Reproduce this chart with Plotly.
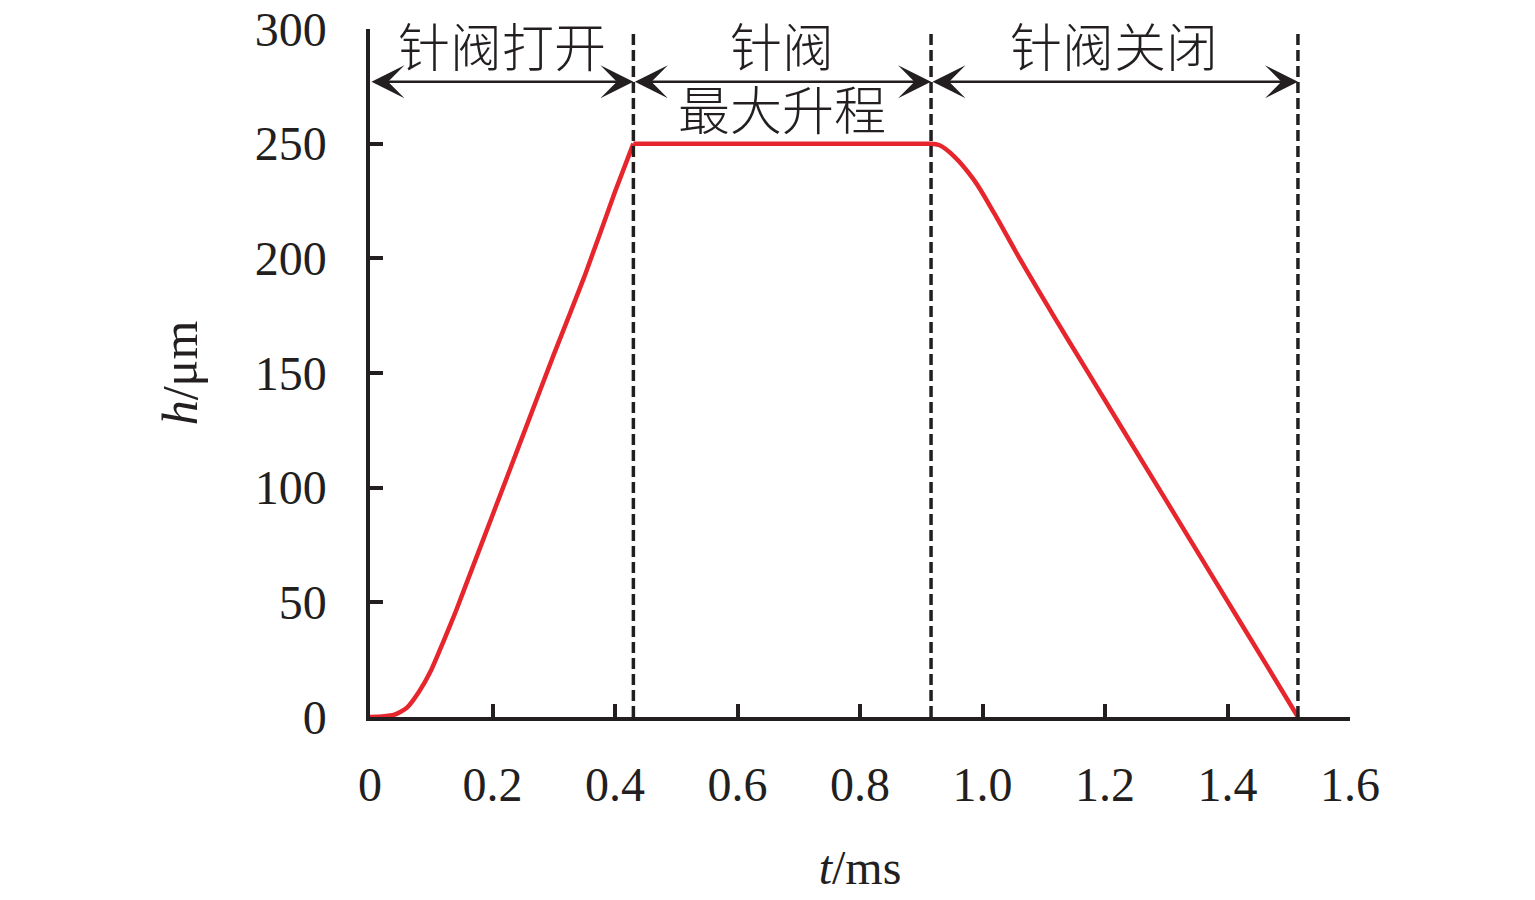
import plotly.graph_objects as go

# needle lift curve: opening, max lift, closing
t_open = [0, 0.02, 0.04, 0.06, 0.08, 0.10, 0.12, 0.14, 0.16, 0.20, 0.25, 0.30, 0.35, 0.40, 0.43]
h_open = [0, 0.2, 1.0, 4.0, 11, 20.5, 33, 46, 60, 88, 123, 158, 192, 229, 250]
t_top = [0.43, 0.916]
h_top = [250, 250]
t_close = [0.916, 0.93, 0.954, 0.986, 1.019, 1.062, 1.117, 1.171, 1.231, 1.301, 1.356, 1.410, 1.464, 1.515]
h_close = [250, 249.3, 244.4, 234.2, 219.7, 199.3, 174.5, 150.8, 124.5, 93.9, 69.8, 46.1, 22.5, 0]

# phase boundaries (dashed lines) and phase labels
phase_bounds = [0, 0.43, 0.916, 1.515]
phase_labels = ['针阀打开', '针阀', '针阀关闭']
phase_sub = ['', '最大升程', '']

x_ticks = [0, 0.2, 0.4, 0.6, 0.8, 1.0, 1.2, 1.4, 1.6]
x_ticktext = ['0', '0.2', '0.4', '0.6', '0.8', '1.0', '1.2', '1.4', '1.6']
y_ticks = [0, 50, 100, 150, 200, 250, 300]

INK = '#231f20'
RED = '#e6262c'
SERIF = 'Liberation Serif, Times New Roman, serif'
CJK = 'Noto Sans CJK SC'

fig = go.Figure()

for tx, hy, shape, sm in [(t_open, h_open, 'spline', 0.6), (t_top, h_top, 'linear', 0),
                          (t_close, h_close, 'spline', 1.0)]:
    fig.add_trace(go.Scatter(x=tx, y=hy, mode='lines', cliponaxis=False,
                             line=dict(color=RED, width=4.5, shape=shape, smoothing=sm),
                             showlegend=False))

for b in phase_bounds[1:]:
    fig.add_trace(go.Scatter(x=[b, b], y=[0, 299], mode='lines', cliponaxis=False,
                             line=dict(color=INK, width=3.5, dash='11px,5px'), showlegend=False))

for i in range(len(phase_labels)):
    x0, x1 = phase_bounds[i], phase_bounds[i + 1]
    # double headed arrow spanning the phase
    fig.add_annotation(x=x1, y=277, ax=x0, ay=277, xref='x', yref='y', axref='x', ayref='y',
                       text='', showarrow=True, arrowside='end+start',
                       arrowhead=3, startarrowhead=3, arrowsize=2.2, startarrowsize=2.2,
                       arrowwidth=2.5, arrowcolor=INK)
    fig.add_annotation(x=(x0 + x1) / 2, y=293.5, xref='x', yref='y', text=phase_labels[i],
                       showarrow=False, height=58, valign='middle',
                       font=dict(family=CJK, size=52, color=INK, weight=300))
    if phase_sub[i]:
        fig.add_annotation(x=(x0 + x1) / 2, y=266, xref='x', yref='y', text=phase_sub[i],
                           showarrow=False, height=58, valign='middle',
                           font=dict(family=CJK, size=52, color=INK, weight=300))

fig.update_xaxes(range=[0, 1.6], tickvals=x_ticks, ticktext=x_ticktext, automargin=False,
                 ticks='inside', ticklen=13, tickwidth=3.5, tickcolor=INK,
                 showline=True, linewidth=3.5, linecolor=INK, showgrid=False, zeroline=False,
                 tickfont=dict(family=SERIF, size=48, color=INK), ticklabelstandoff=23,
                 ticklabeloverflow='allow',
                 title=dict(text='<i>t</i>/ms', font=dict(family=SERIF, size=48, color=INK), standoff=41))
fig.update_yaxes(range=[0, 300], tickvals=y_ticks, automargin=False,
                 ticks='inside', ticklen=13, tickwidth=3.5, tickcolor=INK,
                 showline=True, linewidth=3.5, linecolor=INK, showgrid=False, zeroline=False,
                 tickfont=dict(family=SERIF, size=48, color=INK), ticklabelstandoff=30,
                 ticklabeloverflow='allow',
                 title=dict(text='<i>h</i>/μm', font=dict(family=SERIF, size=50, color=INK), standoff=42))

fig.update_layout(width=1535, height=900, margin=dict(l=370, r=185, t=29, b=183),
                  plot_bgcolor='white', paper_bgcolor='white', showlegend=False)

# drop the page's default body margin so the figure sits at the window corner
fig.write_html('out.html', config={'displayModeBar': False},
               post_script="document.body.style.margin='0';")
